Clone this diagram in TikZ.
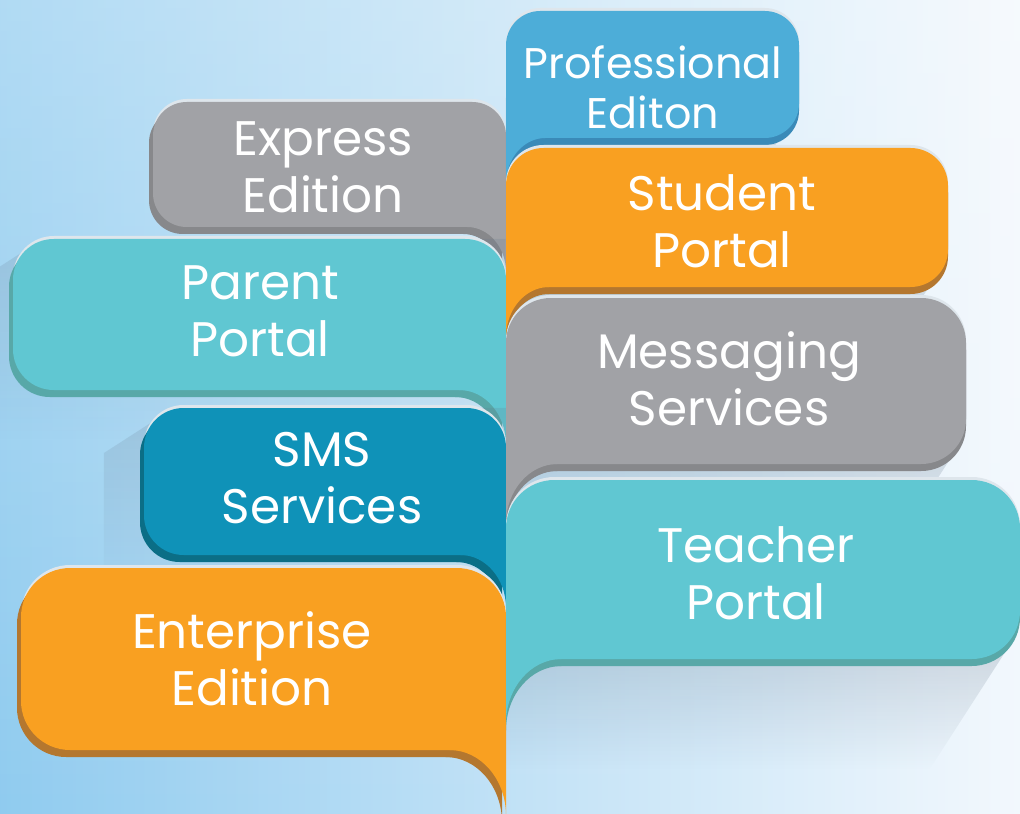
\documentclass[tikz,border=0pt]{standalone}
\usepackage{fontspec}
\setmainfont{Poppins}
\usetikzlibrary{fadings}

\definecolor{bgleft}{RGB}{143,203,239}
\definecolor{bgright}{RGB}{243,248,253}
\definecolor{problue}{RGB}{77,173,216}
\definecolor{problueedge}{RGB}{58,138,184}
\definecolor{orng}{RGB}{249,160,33}
\definecolor{orngedge}{RGB}{180,119,47}
\definecolor{gry}{RGB}{161,162,166}
\definecolor{gryedge}{RGB}{135,136,139}
\definecolor{aqua}{RGB}{96,199,210}
\definecolor{aquaedge}{RGB}{88,168,168}
\definecolor{smsblue}{RGB}{15,146,184}
\definecolor{smsedge}{RGB}{11,110,134}
\definecolor{rim}{RGB}{222,230,236}
\definecolor{shdw}{RGB}{100,120,140}

% speech bubble hanging on the middle line: top, outer x, bottom, colour, side (1 right, -1 left)
\newcommand{\bubble}[5]{%
  \pgfmathsetmacro\hh{#3-#1}%
  \pgfmathsetmacro\rr{0.27*\hh*0.025}%
  \pgfmathsetmacro\ww{0.31*\hh}%
  \pgfmathsetmacro\tlen{0.36*\hh}%
  \pgfmathsetmacro\rc{0.28*\hh}%
  \fill[fill=#4,rounded corners=\rr cm] (506,#3) -- (506,#1) -- (#2,#1) -- (#2,#3) -- cycle;
  \fill[fill=#4] (506,{#3-\rc}) -- ({506+#5*\ww},{#3-\rc}) -- ({506+#5*\ww},#3)
    .. controls ({506+#5*0.448*\ww},#3) and (506,{#3+0.448*\tlen}) .. (506,{#3+\tlen}) -- cycle;
}

\begin{document}
\begin{tikzpicture}[x=0.025cm,y=-0.025cm]
\tikzset{
  lbl/.style={text=white,align=center,font=\fontsize{34.5}{40.5}\selectfont},
  lblsmall/.style={lbl,font=\fontsize{30.5}{35.6}\selectfont},
  dropshade/.style={fill=shdw,opacity=0.3,path fading=south}
}
\useasboundingbox (0,0) rectangle (1020,814);
\clip (0,0) rectangle (1020,814);
\shade[left color=bgleft,right color=bgright] (-5,-5) rectangle (1025,819);
\fill[white,opacity=0.3,path fading=south] (-5,-5) rectangle (1025,819);

% left column
\foreach \yt/\xl/\yb/\fc/\ec/\so in {102/153/227/gry/gryedge/0,239/13/390/aqua/aquaedge/0.2,408/144/555/smsblue/smsedge/0.2,568/21/750/orng/orngedge/0}{
  \fill[fill=shdw,opacity=\so,path fading=south] ({\xl+30},\yt) -- ({\xl-40},{\yt+45}) -- ({\xl-40},{\yb+50}) -- (506,{\yb+50}) -- (506,\yt) -- cycle;
  \begin{scope}[shift={(0,-3)}] \bubble{\yt}{\xl}{\yb}{rim}{-1} \end{scope}
  \begin{scope}[shift={(-4,7)}] \bubble{\yt}{\xl}{\yb}{\ec}{-1} \end{scope}
  \bubble{\yt}{\xl}{\yb}{\fc}{-1}
}

% right column
\foreach \yt/\xr/\yb/\fc/\ec in {11/799/138/problue/problueedge,148/948/287/orng/orngedge,298/966/464/gry/gryedge,480/1020/659/aqua/aquaedge}{
  \fill[dropshade] (506,{\yb-40}) -- ({\xr-3},{\yb-40}) -- ({\xr-3},{\yb-25}) -- ({\xr-90},{\yb+110}) -- (506,{\yb+110}) -- cycle;
  \begin{scope}[shift={(0,-3)}] \bubble{\yt}{\xr}{\yb}{rim}{1} \end{scope}
  \begin{scope}[shift={(0,7)}] \bubble{\yt}{\xr}{\yb}{\ec}{1} \end{scope}
  \bubble{\yt}{\xr}{\yb}{\fc}{1}
}

\node[lblsmall] (pro) at (653,87.5) {Professional\\Editon};
\node[lbl] (exp) at (323,167.5) {Express\\Edition};
\node[lbl] (stu) at (722,221) {Student\\Portal};
\node[lbl] (par) at (260,311) {Parent\\Portal};
\node[lbl] (msg) at (729,378.5) {Messaging\\Services};
\node[lbl] (sms) at (322,478.5) {SMS\\Services};
\node[lbl] (tch) at (756,573) {Teacher\\Portal};
\node[lbl] (ent) at (252,659) {Enterprise\\Edition};
\end{tikzpicture}
\end{document}
